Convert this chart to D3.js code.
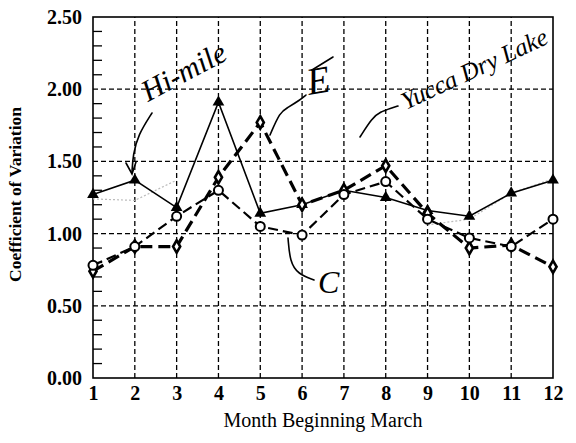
<!DOCTYPE html>
<html>
<head>
<meta charset="utf-8">
<script src="https://cdn.jsdelivr.net/npm/d3@7"></script>
<style>
  body { margin: 0; background: #fff; }
  svg { display: block; }
  .tick-label { font-family: "Liberation Serif", "Times New Roman", serif; font-weight: bold; font-size: 20px; }
  .hand { font-family: "Liberation Serif", serif; font-style: italic; fill: #000; }
</style>
</head>
<body>
<div id="chart"></div>
<script>
const months = [1, 2, 3, 4, 5, 6, 7, 8, 9, 10, 11, 12];
const yTicks = [0, 0.5, 1.0, 1.5, 2.0, 2.5];

// solid line, filled triangles (Hi-mile)
const hiMile = [1.27, 1.37, 1.18, 1.91, 1.14, 1.20, 1.30, 1.25, 1.16, 1.12, 1.28, 1.37];
// heavy dashed, diamonds (E)
const seriesE = [0.74, 0.91, 0.91, 1.39, 1.77, 1.20, 1.30, 1.47, 1.14, 0.90, 0.92, 0.77];
// dashed, open circles (C)
const seriesC = [0.78, 0.91, 1.12, 1.30, 1.05, 0.99, 1.27, 1.36, 1.10, 0.97, 0.91, 1.10];
// faint pencil trace (Yucca Dry Lake), only where it can be read
const yucca = [1.24, 1.23, 1.37, null, null, null, null, null, 1.06, 1.10, 1.28, 1.38];

const width = 576, height = 443;
const svg = d3.select("#chart").append("svg")
    .attr("width", width)
    .attr("height", height);

const x = d3.scaleLinear().domain([1, 12]).range([93, 553]);
const y = d3.scaleLinear().domain([0, 2.5]).range([378, 17]);

// grid
svg.append("g")
    .selectAll("line")
    .data(months.slice(1, -1))
    .enter().append("line")
    .attr("x1", d => x(d)).attr("x2", d => x(d))
    .attr("y1", y(0)).attr("y2", y(2.5))
    .attr("stroke", "#000").attr("stroke-width", 1.3)
    .attr("stroke-dasharray", "5,3");

svg.append("g")
    .selectAll("line")
    .data(yTicks.slice(1, -1))
    .enter().append("line")
    .attr("x1", x(1)).attr("x2", x(12))
    .attr("y1", d => y(d)).attr("y2", d => y(d))
    .attr("stroke", "#000").attr("stroke-width", 1.3)
    .attr("stroke-dasharray", "5,3");

// minor ticks inside left axis
const minor = d3.range(0, 2.5, 0.1).filter(v => Math.abs(v * 2 - Math.round(v * 2)) > 0.01);
svg.append("g")
    .selectAll("line")
    .data(minor)
    .enter().append("line")
    .attr("x1", x(1)).attr("x2", x(1) + 9)
    .attr("y1", d => y(d)).attr("y2", d => y(d))
    .attr("stroke", "#000").attr("stroke-width", 1.3);

// frame
svg.append("rect")
    .attr("x", x(1)).attr("y", y(2.5))
    .attr("width", x(12) - x(1)).attr("height", y(0) - y(2.5))
    .attr("fill", "none").attr("stroke", "#000").attr("stroke-width", 1.6);

// axes (labels only)
const yAxis = d3.axisLeft(y).tickValues(yTicks).tickFormat(d3.format(".2f")).tickSize(0).tickPadding(11);
svg.append("g").attr("transform", `translate(${x(1)},0)`).call(yAxis)
    .call(g => g.select(".domain").remove())
    .selectAll("text").attr("class", "tick-label").attr("fill", "#000");

const xAxis = d3.axisBottom(x).tickValues(months).tickFormat(d3.format("d")).tickSize(0).tickPadding(8);
svg.append("g").attr("transform", `translate(0,${y(0)})`).call(xAxis)
    .call(g => g.select(".domain").remove())
    .selectAll("text").attr("class", "tick-label").attr("fill", "#000");

svg.append("text")
    .attr("transform", `translate(21,${(y(0) + y(2.5)) / 2 - 3}) rotate(-90)`)
    .attr("text-anchor", "middle")
    .attr("font-family", "Liberation Serif, serif")
    .attr("font-weight", "bold")
    .attr("font-size", 17.5)
    .text("Coefficient of Variation");

svg.append("text")
    .attr("x", 323)
    .attr("y", 427)
    .attr("text-anchor", "middle")
    .attr("font-family", "Liberation Serif, serif")
    .attr("font-size", 20)
    .text("Month Beginning March");

// faint pencil trace
const line = d3.line()
    .defined(d => d[1] !== null)
    .x(d => x(d[0])).y(d => y(d[1]));

svg.append("path")
    .datum(months.map((m, i) => [m, yucca[i]]))
    .attr("d", line)
    .attr("fill", "none")
    .attr("stroke", "#bbb").attr("stroke-width", 1.2)
    .attr("stroke-dasharray", "2,2");

// series
function drawSeries(vals, width, dash) {
    svg.append("path")
        .datum(months.map((m, i) => [m, vals[i]]))
        .attr("d", line)
        .attr("fill", "none")
        .attr("stroke", "#000")
        .attr("stroke-width", width)
        .attr("stroke-dasharray", dash);
}
drawSeries(hiMile, 1.6, null);
drawSeries(seriesC, 2.2, "10,5");
drawSeries(seriesE, 3.2, "12,6");

const tri = d3.symbol().type(d3.symbolTriangle).size(60);
svg.append("g").selectAll("path")
    .data(hiMile)
    .enter().append("path")
    .attr("d", tri)
    .attr("transform", (d, i) => `translate(${x(months[i])},${y(d)})`)
    .attr("fill", "#000");

const dia = d3.symbol().type(d3.symbolDiamond).size(44);
svg.append("g").selectAll("path")
    .data(seriesE)
    .enter().append("path")
    .attr("d", dia)
    .attr("transform", (d, i) => `translate(${x(months[i])},${y(d)})`)
    .attr("fill", "#fff").attr("stroke", "#000").attr("stroke-width", 2.6);

svg.append("g").selectAll("circle")
    .data(seriesC)
    .enter().append("circle")
    .attr("cx", (d, i) => x(months[i]))
    .attr("cy", d => y(d))
    .attr("r", 4.5)
    .attr("fill", "#fff").attr("stroke", "#000").attr("stroke-width", 2);

// handwritten notes
const ink = svg.append("g").attr("fill", "none").attr("stroke", "#000").attr("stroke-width", 1.6)
    .attr("stroke-linecap", "round");
const curve = d3.line().curve(d3.curveBasis);

ink.append("path").attr("d", curve([[152, 113], [138, 135], [133, 155], [132, 172]]));
ink.append("path").attr("d", "M126,163 L132,174 L136,162");
ink.append("path").attr("d", curve([[270, 135], [280, 112], [287, 108], [300, 100], [306, 95]]));
ink.append("path").attr("d", curve([[360, 137], [372, 118], [380, 112], [392, 108], [398, 106]]));
ink.append("path").attr("d", curve([[288, 238], [290, 262], [298, 274], [314, 280]]));
ink.append("path").attr("d", "M312,70 L333,57");

svg.append("text").attr("class", "hand")
    .attr("transform", "translate(148,102) rotate(-28)")
    .attr("font-size", 30)
    .text("Hi-mile");

svg.append("text").attr("class", "hand")
    .attr("transform", "translate(309,95) rotate(-10)")
    .attr("font-size", 38)
    .text("E");

svg.append("text").attr("class", "hand")
    .attr("transform", "translate(406,110) rotate(-25)")
    .attr("font-size", 25)
    .text("Yucca Dry Lake");

svg.append("text").attr("class", "hand")
    .attr("transform", "translate(318,293)")
    .attr("font-size", 32)
    .text("C");
</script>
</body>
</html>
